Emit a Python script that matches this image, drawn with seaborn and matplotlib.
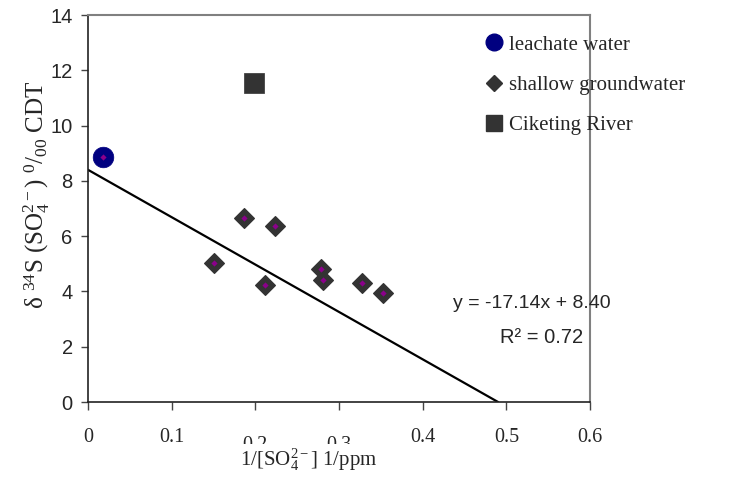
import numpy as np
import pandas as pd
import matplotlib
matplotlib.use('Agg')
import matplotlib.pyplot as plt
import seaborn as sns
from matplotlib.lines import Line2D
from matplotlib.transforms import ScaledTranslation

# data
leach_x = [0.018]
leach_y = [8.85]
shallow_x = [0.150, 0.186, 0.212, 0.224, 0.278, 0.281, 0.328, 0.353]
shallow_y = [5.04, 6.65, 4.25, 6.37, 4.80, 4.40, 4.32, 3.93]
river_x = [0.199]
river_y = [11.54]
slope, intercept, r2 = -17.14, 8.40, 0.72

sns.set_style('white')
plt.rcParams['font.family'] = ['Liberation Serif', 'DejaVu Serif']
plt.rcParams['mathtext.fontset'] = 'custom'
plt.rcParams['mathtext.rm'] = 'Liberation Serif'
plt.rcParams['mathtext.it'] = 'Liberation Serif:italic'

df = pd.DataFrame({
    'x': leach_x + shallow_x + river_x,
    'y': leach_y + shallow_y + river_y,
    'group': ['leachate water'] * len(leach_x) + ['shallow groundwater'] * len(shallow_x)
             + ['Ciketing River'] * len(river_x),
})

fig = plt.figure(figsize=(7.44, 4.84), dpi=100)
ax = fig.add_axes([88 / 744, 1 - 402 / 484, 502 / 744, 387 / 484])

# regression line from the fitted equation
line_x = np.array([0, -intercept / slope])
ax.plot(line_x, slope * line_x + intercept, color='black', lw=1.6, zorder=2)

sns.scatterplot(data=df[df.group == 'leachate water'], x='x', y='y', marker='o', s=220,
                color='#000080', edgecolor='#000080', linewidth=0.5, ax=ax, zorder=3, legend=False)
sns.scatterplot(data=df[df.group == 'shallow groundwater'], x='x', y='y', marker='D', s=100,
                color='#333333', edgecolor='#333333', linewidth=1, ax=ax, zorder=3, legend=False)
sns.scatterplot(data=df[df.group == 'Ciketing River'], x='x', y='y', marker='s', s=190,
                color='#333333', edgecolor='#333333', linewidth=0.5, ax=ax, zorder=3, legend=False)
# small purple centre dots
sns.scatterplot(data=df[df.group != 'Ciketing River'], x='x', y='y', marker='D', s=10,
                color='#8B008B', edgecolor='#8B008B', linewidth=0, ax=ax, zorder=4, legend=False)

ax.set_xlim(0, 0.6)
ax.set_ylim(0, 14)
ax.set_xticks(np.arange(0, 0.61, 0.1))
ax.set_xticklabels(['0', '0.1', '0.2', '0.3', '0.4', '0.5', '0.6'])
ax.set_yticks(np.arange(0, 15, 2))

for side in ['left', 'bottom']:
    ax.spines[side].set_color('#222222')
    ax.spines[side].set_linewidth(1.2)
for side in ['top', 'right']:
    ax.spines[side].set_color('#808080')
    ax.spines[side].set_linewidth(1.5)

ax.tick_params(axis='x', direction='out', length=6, width=1, color='#444444',
               labelsize=14.5, pad=13, bottom=True)
ax.tick_params(axis='y', direction='out', length=5, width=1, color='#444444',
               labelsize=14.5, pad=6, left=True)
for t in ax.get_yticklabels():
    t.set_fontfamily(['Liberation Sans', 'DejaVu Sans'])
# 0.2 and 0.3 sit lower and get cut by the axis title, as in the original
for t in ax.get_xticklabels()[2:4]:
    t.set_transform(t.get_transform() + ScaledTranslation(0, -0.08, fig.dpi_scale_trans))

ax.set_xlabel('1/[SO$_4^{2-}$] 1/ppm', fontsize=15,
              bbox=dict(facecolor='white', edgecolor='none', pad=1.5))
ax.xaxis.set_label_coords(0.44, -0.115)
ax.set_ylabel('δ $^{34}$S (SO$_4^{2-}$) $^0$/$_{00}$ CDT', fontsize=18)
ax.yaxis.set_label_coords(-0.072, 0.535)

sans = ['Liberation Sans', 'DejaVu Sans']
ax.text(0.530, 3.58, f'y = {slope:.2f}x + {intercept:.2f}', ha='center', va='center',
        fontsize=14, family=sans)
ax.text(0.542, 2.32, f'R² = {r2:.2f}', ha='center', va='center', fontsize=14.5, family=sans)

handles = [
    Line2D([], [], marker='o', ls='', color='#000080', markersize=12),
    Line2D([], [], marker='D', ls='', color='#333333', markersize=8),
    Line2D([], [], marker='s', ls='', color='#333333', markersize=12),
]
ax.legend(handles, ['leachate water', 'shallow groundwater', 'Ciketing River'],
          loc='upper left', bbox_to_anchor=(0.775, 0.97), frameon=False, fontsize=15,
          handlelength=0.8, handletextpad=0.35, labelspacing=1.0, borderaxespad=0)

fig.savefig('out.png', dpi=100)
